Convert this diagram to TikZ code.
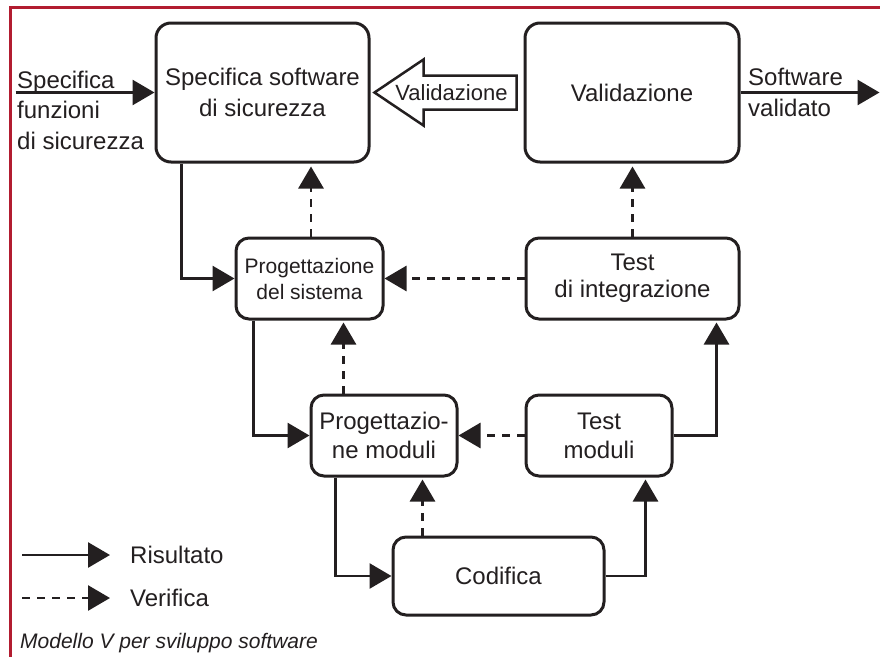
\documentclass[tikz,border=0pt]{standalone}
\usepackage{fontspec}
\setmainfont{Liberation Sans}
\usetikzlibrary{arrows.meta,calc}
\definecolor{ink}{HTML}{231F20}
\definecolor{framered}{HTML}{B21C30}
\begin{document}
\begin{tikzpicture}[x=1pt,y=-1pt,
  box/.style={draw=ink, line width=3pt, rounded corners=13pt, align=center, text=ink, inner sep=0pt, font=\fontsize{24}{29}\selectfont},
  res/.style={draw=ink, line width=2.7pt, -{Triangle[length=22pt,width=25pt]}},
  ver/.style={res, dash pattern=on 8pt off 7pt},
  lbl/.style={text=ink, inner sep=0pt, font=\fontsize{24}{29}\selectfont}
]
\useasboundingbox (0,0) rectangle (880,656);
\fill[white] (0,0) rectangle (880,656);
\draw[framered, line width=3pt] (10,662) -- (10,7) -- (886,7);

% boxes
\node[box, minimum width=213pt, minimum height=139pt, rounded corners=15pt, font=\fontsize{24}{31}\selectfont] (b1) at (262.5,92.5) {Specifica software\\di sicurezza};
\node[box, minimum width=214pt, minimum height=139pt, rounded corners=15pt] (b2) at (632,92.5) {Validazione};
\node[box, minimum width=147pt, minimum height=81pt, font=\fontsize{21}{26}\selectfont] (b3) at (309.5,278.5) {Progettazione\\del sistema};
\node[box, minimum width=213pt, minimum height=81pt, font=\fontsize{24}{27}\selectfont] (b4) at (632.5,278.5) {Test\\di integrazione};
\node[box, minimum width=146pt, minimum height=81pt] (b5) at (384,435.5) {Progettazio-\\ne moduli};
\node[box, minimum width=146pt, minimum height=81pt] (b6) at (599,435.5) {Test\\moduli};
\node[box, minimum width=211pt, minimum height=78pt] (b7) at (498.5,576) {Codifica};

% input / output
\coordinate (inS) at ($(b1.west)+(-139,0)$);
\draw[res] (inS) -- (b1.west);
\coordinate (outS) at ($(b2.east)+(139,0)$);
\draw[res] (b2.east) -- (outS);
\node[lbl, anchor=base west] (t1) at (17,88) {Specifica};
\node[lbl, anchor=base west] (t2) at (17,118) {funzioni};
\node[lbl, anchor=base west] (t3) at (17,149) {di sicurezza};
\node[lbl, anchor=base west] (t4) at (748,85) {Software};
\node[lbl, anchor=base west] (t5) at (748,116) {validato};

% hollow validation arrow
\coordinate (vt) at ($(b1.east)+(4,0)$);
\coordinate (ve) at ($(b2.west)+(-7,0)$);
\draw[draw=ink, line width=2.5pt, fill=white] (vt) -- ++(49,-33) -- ++(0,16) -- ($(ve)+(0,-17)$) -- ($(ve)+(0,17)$) -- ($(vt)+(49,17)$) -- ($(vt)+(49,33)$) -- cycle;
\node[lbl, font=\fontsize{22}{26}\selectfont] (vl) at ($(vt)!0.5!(ve)+(6,0)$) {Validazione};

% connectors
\draw[res] ($(b1.south west)+(27,0)$) |- (b3.west);
\coordinate (p0) at ($(b3.north)+(1.5,0)$);
\draw[ver, shorten >=3pt] (p0) -- (p0 |- b1.south);
\draw[ver, shorten >=3pt] (b4.north) -- (b4.north |- b2.south);
\draw[ver] (b4.west) -- (b3.east);
\draw[res] ($(b3.south west)+(19,0)$) |- (b5.west);
\coordinate (p1) at ($(b5.north west)+(34,0)$);
\draw[ver, shorten >=2pt] (p1) -- (p1 |- b3.south);
\draw[ver] (b6.west) -- (b5.east);
\draw[res, shorten >=2pt] (b6.east) -| ($(b4.south west)+(192,0)$);
\draw[res] ($(b5.south west)+(26,0)$) |- (b7.west);
\coordinate (p2) at ($(b7.north west)+(31,0)$);
\draw[ver, shorten >=2pt] (p2) -- (p2 |- b5.south);
\draw[res, shorten >=2pt] (b7.east) -| ($(b6.south west)+(121,0)$);

% legend
\coordinate (la) at (22,555);
\coordinate (lb) at (110,555);
\draw[res] (la) -- (lb);
\node[lbl, anchor=base west] (lr) at (130,563) {Risultato};
\coordinate (lc) at (22,598);
\coordinate (ld) at (110,598);
\draw[ver] (lc) -- (ld);
\node[lbl, anchor=base west] (lv) at (130,606) {Verifica};
\node[lbl, anchor=base west, font=\fontsize{21}{25}\selectfont\itshape] (cap) at (20,648) {Modello V per sviluppo software};
\end{tikzpicture}
\end{document}
